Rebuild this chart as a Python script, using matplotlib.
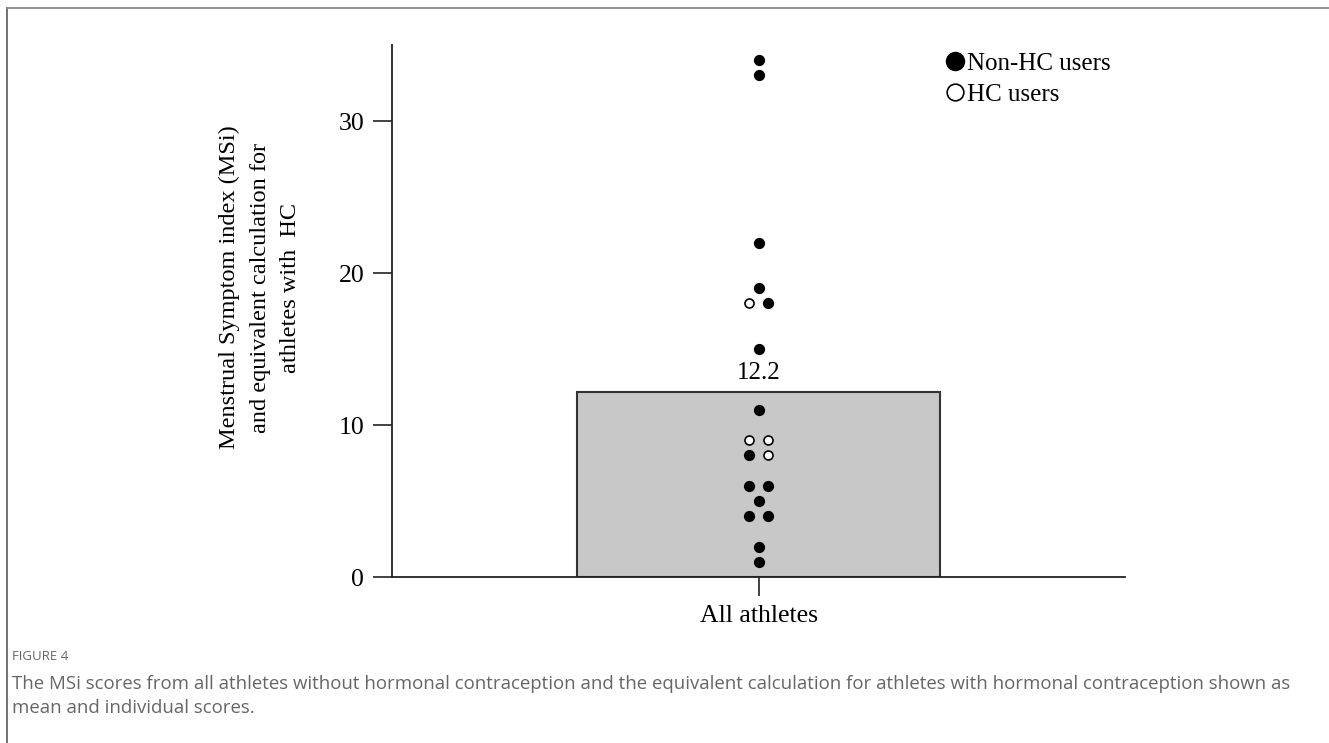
import numpy as np
import matplotlib
matplotlib.use('Agg')
from matplotlib import pyplot as plt
from matplotlib.lines import Line2D

# data
category = 'All athletes'
mean_msi = 12.2
# individual scores: (value, side offset -1 left / 0 centre / 1 right)
non_hc_scores = [34, 33, 22, 19, 18, 15, 11, 8, 6, 6, 5, 4, 4, 2, 1]
non_hc_side = [0, 0, 0, 0, 1, 0, 0, -1, -1, 1, 0, -1, 1, 0, 0]
hc_scores = [18, 9, 9, 8]
hc_side = [-1, -1, 1, 1]

caption_head = 'FIGURE 4'
caption_lines = ['The MSi scores from all athletes without hormonal contraception and the equivalent '
                 'calculation for athletes with hormonal contraception shown as',
                 'mean and individual scores.']

plt.rcParams['font.family'] = ['Liberation Serif', 'DejaVu Serif']

fig = plt.figure(figsize=(13.29, 7.43), dpi=100)
ax = fig.add_axes([0.295, 0.2234, 0.5516, 0.716])

ax.bar([0], [mean_msi], width=0.99, color='#c8c8c8', edgecolor='#333333', linewidth=1.5, zorder=1)
ax.text(0, mean_msi + 0.5, f'{mean_msi}', ha='center', va='bottom', fontsize=18)

dx = 0.025
ax.scatter(np.array(non_hc_side) * dx, non_hc_scores, s=50, color='black', zorder=3)
ax.scatter(np.array(hc_side) * dx, hc_scores, s=42, facecolor='white', edgecolor='black',
           linewidth=1.2, zorder=3)

ax.set_xlim(-1.0, 1.0)
ax.set_ylim(0, 35)
ax.set_xticks([0])
ax.set_xticklabels([category], fontsize=18.5)
ax.set_yticks([0, 10, 20, 30])
ax.tick_params(axis='both', labelsize=18.5, length=14, width=1.2, color='#222222', pad=6)
for side in ['top', 'right']:
    ax.spines[side].set_visible(False)
for side in ['left', 'bottom']:
    ax.spines[side].set_linewidth(1.3)
    ax.spines[side].set_color('#222222')

ax.set_ylabel('Menstrual Symptom index (MSi)\nand equivalent calculation for\nathletes with  HC',
              fontsize=17.5, linespacing=1.6)
ax.yaxis.set_label_coords(-0.124, 0.544)

handles = [Line2D([], [], marker='o', linestyle='', markersize=13, color='black'),
           Line2D([], [], marker='o', linestyle='', markersize=12, markerfacecolor='white',
                  markeredgecolor='black', markeredgewidth=1.2)]
ax.legend(handles, ['Non-HC users', 'HC users'], loc='upper left', bbox_to_anchor=(0.74, 1.01),
          frameon=False, fontsize=18, handlelength=0.6, handletextpad=0.2, labelspacing=0.36,
          borderpad=0)

# caption and frame
fig.text(0.009, 1 - 657 / 743, caption_head, fontsize=9.5, color='#666666', family='Open Sans',
         va='center')
for i, line in enumerate(caption_lines):
    fig.text(0.009, 1 - (684 + 24 * i) / 743, line, fontsize=13.4, color='#666666',
             family='Open Sans', va='center')
fig.add_artist(Line2D([7 / 1329, 7 / 1329], [0, 1 - 8 / 743], transform=fig.transFigure,
                      color='#666666', linewidth=1.3))
fig.add_artist(Line2D([7 / 1329, 1], [1 - 8 / 743, 1 - 8 / 743], transform=fig.transFigure,
                      color='#888888', linewidth=1.3))

fig.savefig('out.png', dpi=100)
